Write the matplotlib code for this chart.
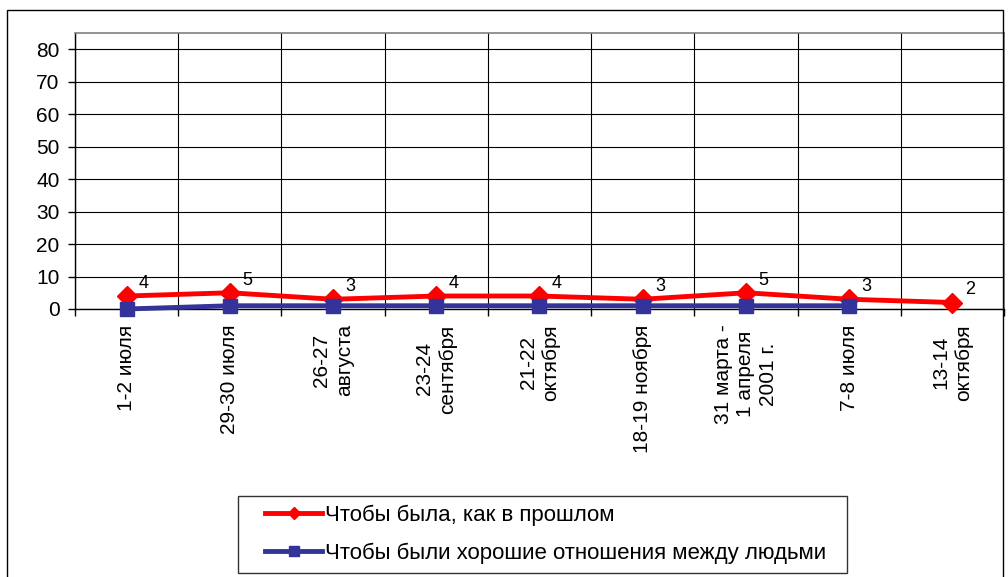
import matplotlib.pyplot as plt
import numpy as np
from matplotlib.lines import Line2D
from matplotlib.legend_handler import HandlerLine2D
from matplotlib.patches import Rectangle

plt.rcParams['font.family'] = ['Liberation Sans', 'DejaVu Sans']

# survey waves
categories = ['1-2 июля', '29-30 июля', '26-27\nавгуста', '23-24\nсентября',
              '21-22\nоктября', '18-19 ноября', '31 марта -\n1 апреля\n2001 г.',
              '7-8 июля', '13-14\nоктября']
past_values = [4, 5, 3, 4, 4, 3, 5, 3, 2]
relations_values = [0, 1, 1, 1, 1, 1, 1, 1, np.nan]
series_names = ['Чтобы была, как в прошлом',
                'Чтобы были хорошие отношения между людьми']
y_ticks = list(range(0, 90, 10))

W, H = 1008, 577
fig = plt.figure(figsize=(W / 100, H / 100), dpi=100)
fig.patch.set_facecolor('white')

# outer chart frame
fig.patches.append(Rectangle((7 / W, -0.01), (1003 - 7) / W, 1 - 10 / H + 0.01,
                             transform=fig.transFigure, fill=False,
                             edgecolor='black', linewidth=1.0))

ax = fig.add_axes([75 / W, 1 - 309 / H, (1004 - 75) / W, (309 - 33) / H])
x = np.arange(len(categories))

ax.plot(x, past_values, color='#ff0000', linewidth=3.5, marker='D',
        markersize=10, label=series_names[0], zorder=3, clip_on=False)
ax.plot(x, relations_values, color='#333399', linewidth=3.5, marker='s',
        markersize=10, label=series_names[1], zorder=4, clip_on=False)

for xi, v in zip(x, past_values):
    ax.annotate(str(v), (xi, v), xytext=(9, 3), textcoords='offset points',
                fontsize=13, ha='left', va='bottom', zorder=5)

ax.set_xlim(-0.5, len(categories) - 0.5)
ax.set_ylim(0, 85)
ax.set_yticks(y_ticks)
ax.tick_params(axis='y', labelsize=15, length=5, width=1, pad=6)

ax.set_xticks(x)
ax.set_xticklabels(categories, rotation=90, fontsize=15, ha='center',
                   va='top', multialignment='center', linespacing=1.25)
ax.set_xticks(np.arange(-0.5, len(categories)), minor=True)
ax.tick_params(axis='x', which='major', length=0, pad=11)
ax.tick_params(axis='x', which='minor', length=5, width=1)

ax.grid(True, which='major', axis='y', color='black', linewidth=0.8)
ax.grid(True, which='minor', axis='x', color='black', linewidth=0.8)
ax.set_axisbelow(True)

for side in ['top', 'right']:
    ax.spines[side].set_color('#808080')
    ax.spines[side].set_linewidth(1.2)
ax.spines['left'].set_linewidth(1.0)
ax.spines['bottom'].set_linewidth(1.0)

# legend box along the bottom edge; handles are inset from the frame
leg = fig.legend(loc='lower left',
                 bbox_to_anchor=(238 / W, 1 - 573 / H, (847 - 238) / W, (573 - 494) / H),
                 mode='expand', borderaxespad=0, fontsize=16, frameon=True,
                 fancybox=False, handlelength=3.4, handletextpad=0.1,
                 borderpad=0.4, labelspacing=0.75, markerscale=0.65,
                 handler_map={Line2D: HandlerLine2D(xpad=0.8)})
leg.get_frame().set_edgecolor('black')
leg.get_frame().set_linewidth(1.0)

fig.savefig('out.png', dpi=100, facecolor='white')
